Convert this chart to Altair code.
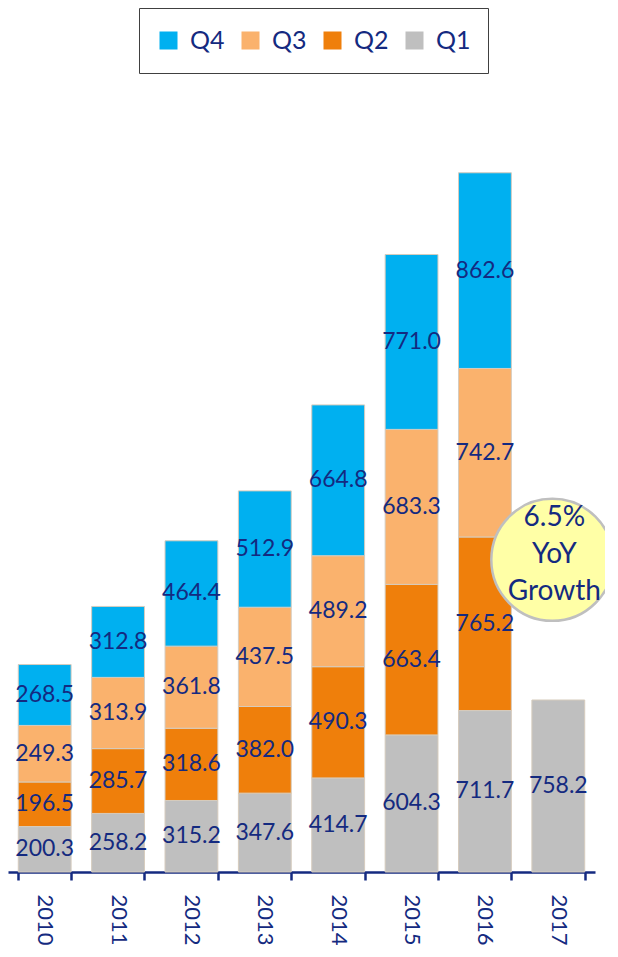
import altair as alt
import pandas as pd

years = ["2010", "2011", "2012", "2013", "2014", "2015", "2016", "2017"]
q1 = [200.3, 258.2, 315.2, 347.6, 414.7, 604.3, 711.7, 758.2]
q2 = [196.5, 285.7, 318.6, 382.0, 490.3, 663.4, 765.2, None]
q3 = [249.3, 313.9, 361.8, 437.5, 489.2, 683.3, 742.7, None]
q4 = [268.5, 312.8, 464.4, 512.9, 664.8, 771.0, 862.6, None]
quarters = ["Q1", "Q2", "Q3", "Q4"]
legend_order = ["Q4", "Q3", "Q2", "Q1"]
colors = ["#00B0F0", "#FAB26D", "#EF7F0B", "#BFBFBF"]  # Q4, Q3, Q2, Q1

circle_year = ["2017"]
circle_value = [1376]
note_lines = ["6.5%", "YoY", "Growth"]
note_values = [1562, 1397, 1234]

NAVY = "#142A80"
FONT = "Lato"

rows = []
for qi, (q, vals) in enumerate(zip(quarters, [q1, q2, q3, q4])):
    for yr, v in zip(years, vals):
        if v is not None:
            rows.append({"year": yr, "quarter": q, "order": qi, "value": v})
df = pd.DataFrame(rows)
circ = pd.DataFrame({"year": circle_year, "v": circle_value})
note = pd.DataFrame({"year": ["2017"] * len(note_lines), "v": note_values, "label": note_lines})

xscale = alt.Scale(domain=years, paddingInner=0.28, paddingOuter=0.14)
yscale = alt.Scale(domain=[0, 3500])

xaxis = alt.Axis(
    title=None, labelAngle=90, labelFont=FONT, labelFontSize=22, labelColor=NAVY,
    labelPadding=14, labelAlign="left", labelBaseline="middle",
    domainColor=NAVY, domainWidth=2.5, tickColor=NAVY, tickWidth=2.5, tickSize=8,
    tickBand="extent", grid=False,
)

base = alt.Chart(df).transform_stack(
    stack="value", groupby=["year"],
    sort=[alt.SortField(field="order", order="ascending")],
    as_=["y0", "y1"],
).transform_calculate(mid="(datum.y0 + datum.y1) / 2")

bars = base.mark_bar(stroke="#D6CCBE", strokeWidth=1).encode(
    x=alt.X("year:N", scale=xscale, axis=xaxis),
    y=alt.Y("y0:Q", scale=yscale, axis=None),
    y2="y1:Q",
    color=alt.Color(
        "quarter:N",
        scale=alt.Scale(domain=legend_order, range=colors),
        legend=alt.Legend(
            title=None, orient="none", legendX=131, legendY=-70, direction="horizontal",
            symbolType="square", symbolSize=324, symbolStrokeWidth=0,
            labelFont=FONT, labelFontSize=25, labelColor=NAVY, labelOffset=9,
            columnPadding=13, padding=17, clipHeight=31,
            strokeColor="#404040", fillColor="white",
        ),
    ),
)

labels = base.mark_text(font=FONT, fontSize=23, color=NAVY).encode(
    x=alt.X("year:N", scale=xscale, axis=xaxis),
    y=alt.Y("mid:Q", scale=yscale, axis=None),
    text=alt.Text("value:Q", format=".1f"),
)

circle = alt.Chart(circ).mark_point(
    shape="circle", filled=True, fill="#FFFFA6", stroke="#BFBFBF", strokeWidth=2.5,
    size=14884, opacity=1, fillOpacity=1, xOffset=-6,
).encode(
    x=alt.X("year:N", scale=xscale, axis=xaxis),
    y=alt.Y("v:Q", scale=yscale, axis=None),
)

circle_text = alt.Chart(note).mark_text(
    font=FONT, fontSize=28, color=NAVY, xOffset=-4, baseline="middle",
).encode(
    x=alt.X("year:N", scale=xscale, axis=xaxis),
    y=alt.Y("v:Q", scale=yscale, axis=None),
    text="label:N",
)

chart = alt.layer(bars, labels, circle, circle_text).properties(
    width=587, height=794,
    autosize=alt.AutoSizeParams(type="none"),
    padding={"left": 0, "top": 70, "right": 10, "bottom": 76},
).configure_view(stroke=None)

chart.save("out.html", embed_options={"renderer": "svg", "actions": False})
